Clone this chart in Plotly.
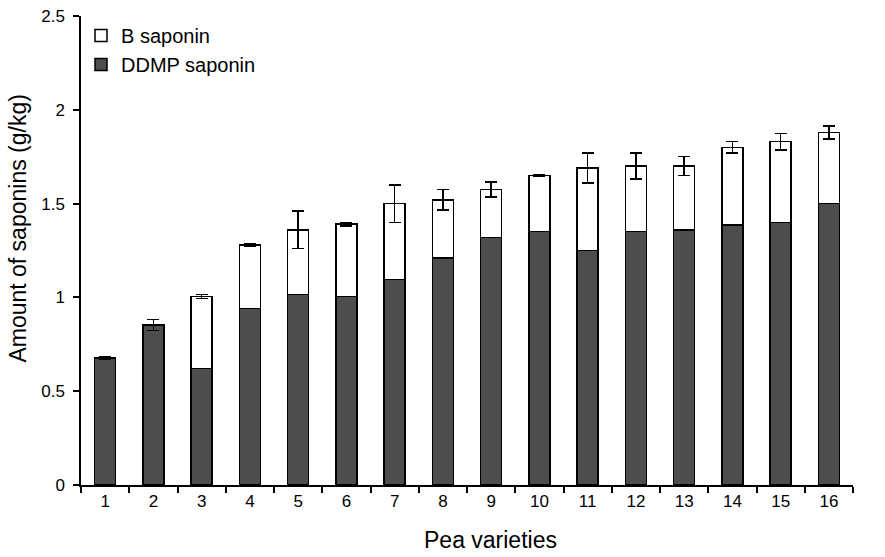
import plotly.graph_objects as go

varieties = [str(i) for i in range(1, 17)]
ddmp = [0.675, 0.853, 0.62, 0.94, 1.015, 1.005, 1.095, 1.21, 1.32, 1.35, 1.25, 1.35, 1.36, 1.385, 1.40, 1.50]
total = [0.677, 0.853, 1.005, 1.28, 1.36, 1.39, 1.50, 1.52, 1.575, 1.65, 1.69, 1.70, 1.70, 1.80, 1.83, 1.88]
err = [0.005, 0.03, 0.01, 0.005, 0.10, 0.01, 0.10, 0.055, 0.04, 0.005, 0.08, 0.07, 0.05, 0.03, 0.045, 0.035]
b_sap = [round(t - d, 3) for t, d in zip(total, ddmp)]

x_title = "Pea varieties"
y_title = "Amount of saponins (g/kg)"

font = "Liberation Sans, Arial, sans-serif"

fig = go.Figure()
fig.add_trace(go.Bar(
    x=varieties, y=ddmp, name="DDMP saponin",
    marker=dict(color="#4d4d4d", line=dict(color="black", width=1.5)),
))
fig.add_trace(go.Bar(
    x=varieties, y=b_sap, name="B saponin",
    marker=dict(color="white", line=dict(color="black", width=1.5)),
    error_y=dict(type="data", array=err, visible=True, color="black", thickness=1.5, width=6),
))

fig.update_layout(
    barmode="stack",
    bargap=0.56,
    width=885, height=557,
    margin=dict(l=81, r=32, t=16, b=72, autoexpand=False),
    plot_bgcolor="white", paper_bgcolor="white",
    font=dict(family=font, size=17, color="black"),
    legend=dict(
        x=0.0, y=1.0, xanchor="left", yanchor="top",
        traceorder="reversed", font=dict(size=20),
        bgcolor="rgba(0,0,0,0)", itemwidth=30, tracegroupgap=0,
    ),
    showlegend=True,
    annotations=[
        dict(text=x_title, xref="paper", yref="paper", x=0.531, y=-0.117,
             xanchor="center", yanchor="middle", showarrow=False, font=dict(size=23)),
        dict(text=y_title, xref="paper", yref="paper", x=-0.082, y=0.546,
             xanchor="center", yanchor="middle", textangle=-90, showarrow=False, font=dict(size=23)),
    ],
)
fig.update_xaxes(
    automargin=False,
    showline=True, linecolor="black", linewidth=1.5,
    ticks="outside", tickson="boundaries", ticklen=6, tickcolor="black", tickwidth=1.5,
    showgrid=False,
)
fig.update_yaxes(
    automargin=False,
    range=[0, 2.5], tickvals=[0, 0.5, 1, 1.5, 2, 2.5],
    ticktext=["0", "0.5", "1", "1.5", "2", "2.5"],
    showline=True, linecolor="black", linewidth=1.5,
    ticks="outside", ticklen=6, tickcolor="black", tickwidth=1.5,
    ticklabelstandoff=5,
    showgrid=False, zeroline=False,
)

fig.write_html("out.html", config={"displayModeBar": False},
               post_script="document.body.style.margin='0px';")
